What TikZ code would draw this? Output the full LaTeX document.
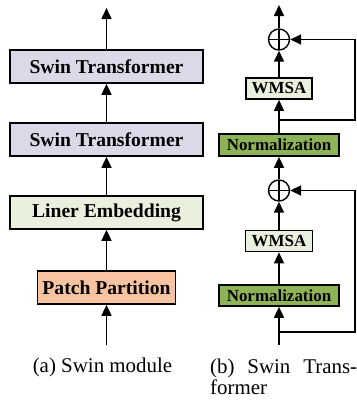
\documentclass[tikz,border=0pt]{standalone}
\usepackage{fontspec}
\setmainfont{Liberation Serif}
\usetikzlibrary{arrows.meta}

\definecolor{swinfill}{HTML}{DDD8E8}
\definecolor{embfill}{HTML}{E9F0DD}
\definecolor{patchfill}{HTML}{F8C3A0}
\definecolor{normfill}{HTML}{8EB356}

\begin{document}
\begin{tikzpicture}[x=1bp,y=-1bp,>={Triangle[length=11bp,width=10bp]},
  blk/.style={draw,line width=1.7bp,inner sep=0pt,
    font=\bfseries\fontsize{19.7}{22}\selectfont},
  sblk/.style={blk,font=\bfseries\fontsize{17}{20}\selectfont},
  addnode/.style={draw,circle,line width=1.4bp,minimum size=21bp,inner sep=0pt,
    path picture={\draw[line width=1.3bp]
      (path picture bounding box.north) -- (path picture bounding box.south)
      (path picture bounding box.west) -- (path picture bounding box.east);}},
  flow/.style={->,line width=1.6bp},
  captext/.style={font=\fontsize{21}{22}\selectfont}]

\useasboundingbox (0,0) rectangle (357,401);

% Geometry constants
\def\xa{106.5}        % centre line of the Swin module
\def\xb{279}          % centre line of the Swin Transformer block
\def\xr{355}          % right edge of the skip lines

% (a) Swin module
\node[blk,fill=swinfill,minimum width=193bp,minimum height=33bp] (st1) at (\xa,66.5) {Swin Transformer};
\node[blk,fill=swinfill,minimum width=193bp,minimum height=33bp] (st2) at (\xa,139.5) {Swin Transformer};
\node[blk,fill=embfill,minimum width=193bp,minimum height=33bp] (emb) at (\xa,212.5) {Liner Embedding};
\node[blk,fill=patchfill,minimum width=138bp,minimum height=33bp] (patch) at (\xa,287.5) {Patch Partition};

\coordinate (ain) at (\xa,345);
\coordinate (aout) at (\xa,8);
\draw[flow] (ain) -- (patch);
\draw[flow] (patch) -- (emb);
\draw[flow] (emb) -- (st2);
\draw[flow] (st2) -- (st1);
\draw[flow] (st1) -- (aout);

\node[captext] (capa) at (102.5,367) {(a) Swin module};

% (b) Swin Transformer block
\node[addnode] (add1) at (\xb,39.5) {};
\node[sblk,fill=embfill,minimum width=66bp,minimum height=21bp] (wmsa1) at (\xb,88.5) {WMSA};
\node[sblk,fill=normfill,minimum width=120bp,minimum height=22bp] (norm1) at (\xb,145) {Normalization};
\node[addnode] (add2) at (\xb,190.5) {};
\node[sblk,fill=embfill,minimum width=67bp,minimum height=21bp] (wmsa2) at (\xb,241) {WMSA};
\node[sblk,fill=normfill,minimum width=120bp,minimum height=21bp] (norm2) at (\xb,295.5) {Normalization};

\coordinate (bin) at (\xb,345);
\coordinate (bout) at (\xb,5);
\draw[flow] (bin) -- (norm2);
\draw[flow] (norm2) -- (wmsa2);
\draw[flow] (wmsa2) -- (add2);
\draw[flow] (add2) -- (norm1);
\draw[flow] (norm1) -- (wmsa1);
\draw[flow] (wmsa1) -- (add1);
\draw[flow] (add1) -- (bout);

% Skip connections
\coordinate (sk2) at (\xb,332);
\coordinate (sk1) at (\xb,120);
\draw[flow] (sk2) -- (\xr,332) |- (add2);
\draw[flow] (sk1) -- (\xr,120) |- (add1);

\node[captext,anchor=base west,text width=147bp,align=justify,inner sep=0pt] (capb) at (210,373)
  {(b) Swin Trans-\linebreak former};

\end{tikzpicture}
\end{document}
